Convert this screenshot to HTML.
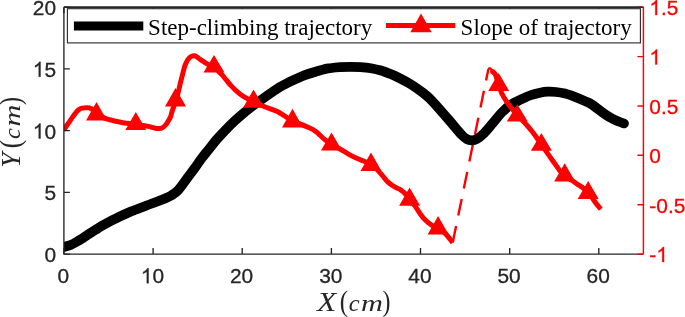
<!DOCTYPE html><html><head><meta charset="utf-8"><title>chart</title>
<style>html,body{margin:0;padding:0;background:#fff}body{width:685px;height:317px;overflow:hidden;font-family:"Liberation Sans",sans-serif}svg{display:block;will-change:transform}</style></head><body>
<svg width="685" height="317" viewBox="0 0 685 317">
<rect width="685" height="317" fill="#fff"/>
<defs><clipPath id="cp"><rect x="63.9" y="7.2" width="579.5" height="246.9"/></clipPath></defs>
<g clip-path="url(#cp)" fill="none">
<path d="M452.7 242.6 L488.2 70 Q489.2 66.2 492 70.2" stroke="#f00" stroke-width="2.4" stroke-dasharray="17 10.6"/>
<path d="M61.5 247.7 C61.9 247.6 62.2 247.6 63.7 247.1 C65.2 246.6 68.4 245.8 70.6 244.9 C72.8 244.0 74.9 242.8 77.0 241.6 C79.1 240.4 81.1 239.1 83.2 237.8 C85.3 236.5 87.4 235.0 89.5 233.6 C91.6 232.2 93.7 230.9 95.8 229.6 C97.9 228.3 99.9 227.0 102.0 225.8 C104.1 224.6 106.2 223.4 108.4 222.2 C110.6 221.0 112.9 219.8 115.0 218.8 C117.1 217.8 118.2 217.2 121.0 216.0 C123.8 214.8 127.4 213.0 131.5 211.3 C135.6 209.6 141.3 207.5 145.4 205.9 C149.5 204.3 152.7 203.2 156.0 202.0 C159.3 200.8 162.5 199.6 165.0 198.5 C167.5 197.4 168.8 196.9 171.0 195.6 C173.2 194.2 175.2 193.4 178.0 190.4 C180.8 187.4 185.0 181.1 187.8 177.3 C190.6 173.6 192.6 171.1 194.9 167.9 C197.2 164.8 199.2 161.6 201.6 158.4 C204.0 155.2 206.6 152.1 209.1 148.9 C211.6 145.8 214.0 142.6 216.7 139.5 C219.4 136.4 222.1 133.5 225.2 130.3 C228.3 127.1 232.3 123.2 235.4 120.3 C238.5 117.4 240.7 115.5 243.5 113.2 C246.3 110.9 249.2 108.7 252.0 106.5 C254.8 104.3 255.7 103.6 260.5 100.3 C265.3 97.0 274.2 90.4 281.0 86.4 C287.8 82.4 294.7 79.2 301.5 76.4 C308.3 73.6 317.2 71.2 322.0 69.8 C326.8 68.4 327.0 68.6 330.0 68.2 C333.0 67.8 336.6 67.4 340.0 67.2 C343.4 67.0 347.0 66.8 350.4 66.8 C353.8 66.8 357.2 66.9 360.6 67.1 C364.0 67.3 367.5 67.6 370.9 68.2 C374.3 68.8 377.6 69.5 381.0 70.5 C384.4 71.5 388.1 73.0 391.3 74.3 C394.5 75.6 396.9 76.8 400.0 78.4 C403.1 80.0 406.7 81.9 409.7 83.7 C412.7 85.5 414.9 87.0 417.8 89.0 C420.7 91.0 424.3 93.7 427.0 96.0 C429.7 98.3 430.2 98.8 434.0 103.0 C437.8 107.2 445.2 115.7 449.8 121.0 C454.4 126.3 458.9 132.0 461.8 135.0 C464.7 138.0 465.4 138.3 467.0 139.2 C468.6 140.1 470.1 140.3 471.7 140.3 C473.3 140.3 474.4 140.4 476.4 139.3 C478.3 138.2 480.7 136.6 483.4 133.9 C486.1 131.2 489.6 126.9 492.8 123.2 C496.0 119.5 499.2 115.2 502.3 112.0 C505.4 108.8 508.5 106.2 511.7 104.1 C514.9 102.0 518.1 100.9 521.2 99.4 C524.4 97.9 527.5 96.3 530.6 95.2 C533.7 94.1 537.1 93.3 540.0 92.7 C542.9 92.1 545.3 91.8 548.0 91.7 C550.7 91.6 553.2 91.7 556.0 92.0 C558.8 92.3 562.4 92.9 565.0 93.5 C567.6 94.1 568.2 94.2 571.5 95.5 C574.8 96.8 581.6 99.6 585.0 101.1 C588.4 102.6 588.7 102.4 592.0 104.6 C595.3 106.8 601.6 111.8 605.0 114.2 C608.4 116.6 610.2 117.5 612.5 118.7 C614.8 119.9 617.1 120.8 619.0 121.6 C620.9 122.4 623.2 123.2 624.0 123.5" stroke="#000" stroke-width="9.7" stroke-linecap="round" stroke-linejoin="round"/>
<path d="M63.6 130.1 C64.3 129.0 66.6 125.7 68.0 123.7 C69.4 121.7 70.8 119.6 72.0 117.9 C73.2 116.2 74.1 114.9 75.0 113.7 C75.9 112.5 76.5 111.7 77.3 110.9 C78.0 110.2 78.7 109.7 79.5 109.2 C80.3 108.7 81.0 108.3 82.1 108.1 C83.2 107.9 84.8 107.8 86.0 107.8 C87.2 107.8 88.6 107.7 89.6 107.9 C90.6 108.1 90.8 108.5 92.0 109.2 C93.2 109.9 95.0 111.2 96.5 112.3 C98.0 113.4 99.2 114.8 101.0 116.0 C102.8 117.2 103.6 118.1 107.3 119.2 C111.0 120.3 118.3 121.9 123.1 122.7 C127.8 123.5 131.6 123.6 135.8 124.2 C140.0 124.8 145.3 125.8 148.3 126.4 C151.3 127.0 152.2 127.5 154.0 127.9 C155.8 128.3 157.5 128.7 159.0 128.6 C160.5 128.5 161.8 128.0 163.0 127.3 C164.2 126.6 165.1 125.6 166.0 124.5 C166.9 123.4 167.8 121.8 168.6 120.5 C169.4 119.2 170.0 118.2 170.6 116.6 C171.2 115.0 171.6 112.8 172.2 111.0 C172.8 109.2 173.4 107.7 174.2 105.5 C175.0 103.3 176.0 100.8 176.8 98.0 C177.6 95.2 178.2 92.2 179.0 89.0 C179.8 85.8 180.3 83.0 181.4 79.0 C182.5 75.0 183.9 68.3 185.3 64.7 C186.7 61.1 188.1 59.1 189.6 57.6 C191.1 56.1 192.8 55.5 194.6 55.8 C196.4 56.1 198.4 58.2 200.5 59.6 C202.6 61.0 204.8 62.6 207.0 63.9 C209.2 65.2 212.1 66.3 214.0 67.5 C215.9 68.7 217.1 70.0 218.5 71.3 C219.9 72.6 221.3 73.9 222.6 75.4 C223.9 76.9 225.1 78.5 226.5 80.2 C227.9 81.9 229.2 83.7 230.8 85.4 C232.4 87.1 234.3 89.0 236.0 90.6 C237.7 92.1 239.2 93.4 241.0 94.7 C242.8 96.0 244.5 97.2 246.7 98.3 C248.9 99.4 251.0 100.1 254.0 101.5 C257.0 102.9 260.8 105.1 264.7 106.8 C268.6 108.5 272.6 109.1 277.3 111.5 C282.0 113.9 288.8 119.1 293.0 121.3 C297.2 123.5 300.0 123.9 302.5 124.9 C305.0 125.9 305.9 126.3 308.0 127.3 C310.1 128.3 312.3 129.0 315.1 131.0 C317.9 133.0 321.9 137.1 324.6 139.4 C327.3 141.7 328.9 143.0 331.5 144.6 C334.1 146.2 337.6 147.7 340.4 149.2 C343.1 150.7 345.4 152.3 348.0 153.8 C350.6 155.3 353.4 156.8 356.1 158.0 C358.8 159.2 361.5 160.2 364.0 161.2 C366.5 162.2 368.8 162.8 371.0 164.2 C373.2 165.6 375.1 167.6 377.0 169.5 C378.9 171.4 380.7 173.7 382.4 175.6 C384.1 177.5 385.6 179.6 387.1 181.2 C388.7 182.8 390.2 183.9 391.7 185.0 C393.2 186.1 394.5 186.8 396.0 187.6 C397.5 188.4 399.1 188.8 400.6 189.8 C402.1 190.8 403.5 191.9 405.0 193.5 C406.5 195.1 408.0 197.5 409.6 199.5 C411.2 201.5 412.4 202.4 414.7 205.5 C417.0 208.6 420.2 214.5 423.4 218.1 C426.6 221.7 430.3 224.4 433.8 226.8 C437.3 229.2 441.1 229.9 444.2 232.5 C447.3 235.1 451.3 240.9 452.7 242.6" stroke="#f00" stroke-width="5.0" stroke-linejoin="round"/>
<path d="M492.6 71.4 C493.1 72.0 494.5 72.5 495.5 74.8 C496.5 77.1 497.7 82.0 498.7 85.0 C499.7 88.0 500.2 89.9 501.5 92.7 C502.8 95.5 504.8 98.9 506.6 101.6 C508.4 104.3 510.3 106.6 512.1 108.8 C513.9 111.0 515.1 112.5 517.3 115.0 C519.5 117.5 523.0 121.0 525.3 123.5 C527.5 126.0 528.9 127.5 530.8 129.8 C532.6 132.1 534.6 134.7 536.4 137.2 C538.2 139.7 539.9 142.4 541.4 144.6 C542.9 146.8 543.7 147.9 545.6 150.6 C547.5 153.3 550.3 157.3 552.7 160.7 C555.1 164.0 557.8 168.1 559.8 170.7 C561.8 173.2 563.2 174.7 564.7 176.0 C566.2 177.3 567.1 177.7 568.5 178.5 C569.9 179.3 571.2 180.0 572.8 181.0 C574.4 182.0 576.2 183.4 578.0 184.6 C579.8 185.8 581.8 187.0 583.5 188.3 C585.2 189.6 586.6 190.7 588.2 192.5 C589.8 194.3 591.7 197.2 593.2 199.3 C594.7 201.4 595.9 203.2 597.2 204.8 C598.5 206.5 600.3 208.5 600.9 209.2" stroke="#f00" stroke-width="5.0" stroke-linejoin="round" stroke-linecap="butt"/>
<circle cx="492.6" cy="71.4" r="2.5" fill="#f00"/>
<path d="M96.5 102.1 L86.0 120.6 L107.0 120.6Z M135.8 111.9 L125.3 130.0 L146.3 130.0Z M175.5 88.0 L165.0 106.4 L186.0 106.4Z M214.0 55.0 L203.5 72.4 L224.5 72.4Z M253.5 89.4 L243.0 107.8 L264.0 107.8Z M292.5 108.7 L282.0 127.4 L303.0 127.4Z M331.5 132.4 L321.0 150.6 L342.0 150.6Z M371.0 152.5 L360.5 170.9 L381.5 170.9Z M409.6 187.5 L399.1 205.7 L420.1 205.7Z M438.1 216.0 L427.6 234.5 L448.6 234.5Z M498.7 73.1 L488.2 91.1 L509.2 91.1Z M517.3 104.3 L506.8 121.6 L527.8 121.6Z M541.4 133.0 L530.9 150.8 L551.9 150.8Z M564.7 163.3 L554.2 181.4 L575.2 181.4Z M588.2 180.9 L577.7 199.0 L598.7 199.0Z" fill="#f00"/>
</g>
<g stroke="#262626" stroke-width="1.35" fill="none">
<path d="M63.9 7.2 V254.1 H643.4"/>
<path d="M63.9 7.2 H643.4"/>
<path d="M63.9 254.1 v-6.0 M63.9 7.2 v6.0 M153.1 254.1 v-6.0 M153.1 7.2 v6.0 M242.2 254.1 v-6.0 M242.2 7.2 v6.0 M331.4 254.1 v-6.0 M331.4 7.2 v6.0 M420.5 254.1 v-6.0 M420.5 7.2 v6.0 M509.7 254.1 v-6.0 M509.7 7.2 v6.0 M598.8 254.1 v-6.0 M598.8 7.2 v6.0 M63.9 254.1 h6.0 M63.9 192.4 h6.0 M63.9 130.6 h6.0 M63.9 68.9 h6.0 M63.9 7.2 h6.0 "/>
</g>
<path d="M643.4 7.2 V254.1 M643.4 254.1 h-6.0 M643.4 204.7 h-6.0 M643.4 155.3 h-6.0 M643.4 106.0 h-6.0 M643.4 56.6 h-6.0 M643.4 7.2 h-6.0 " stroke="#f00" stroke-width="1.45" fill="none"/>
<g font-family="Liberation Sans, sans-serif" font-size="20.9" fill="#262626" stroke="#262626" stroke-width="0.3">
<text x="57.49" y="283.20">0</text>
<path transform="translate(140.83,283.20) scale(20.900)" d="M0.3726 0H0.2847V-0.5601Q0.2529 -0.5298 0.2014 -0.4995T0.1089 -0.4541V-0.5391Q0.1826 -0.5737 0.2378 -0.6230T0.3159 -0.7188H0.3726Z" fill="#262626" stroke="#262626" stroke-width="0.0144"/><text x="152.45" y="283.20">0</text>
<text x="229.99" y="283.20">2</text><text x="241.61" y="283.20">0</text>
<text x="319.14" y="283.20">3</text><text x="330.76" y="283.20">0</text>
<text x="408.29" y="283.20">4</text><text x="419.92" y="283.20">0</text>
<text x="497.45" y="283.20">5</text><text x="509.07" y="283.20">0</text>
<text x="586.60" y="283.20">6</text><text x="598.22" y="283.20">0</text>
<text x="44.38" y="262.00">0</text>
<text x="44.38" y="200.28">5</text>
<path transform="translate(32.76,138.55) scale(20.900)" d="M0.3726 0H0.2847V-0.5601Q0.2529 -0.5298 0.2014 -0.4995T0.1089 -0.4541V-0.5391Q0.1826 -0.5737 0.2378 -0.6230T0.3159 -0.7188H0.3726Z" fill="#262626" stroke="#262626" stroke-width="0.0144"/><text x="44.38" y="138.55">0</text>
<path transform="translate(32.76,76.82) scale(20.900)" d="M0.3726 0H0.2847V-0.5601Q0.2529 -0.5298 0.2014 -0.4995T0.1089 -0.4541V-0.5391Q0.1826 -0.5737 0.2378 -0.6230T0.3159 -0.7188H0.3726Z" fill="#262626" stroke="#262626" stroke-width="0.0144"/><text x="44.38" y="76.82">5</text>
<text x="32.76" y="15.10">2</text><text x="44.38" y="15.10">0</text>
</g>
<g font-family="Liberation Sans, sans-serif" font-size="20.9" fill="#f00" stroke="#f00" stroke-width="0.3">
<text x="649.30" y="262.00">-</text><path transform="translate(656.26,262.00) scale(20.900)" d="M0.3726 0H0.2847V-0.5601Q0.2529 -0.5298 0.2014 -0.4995T0.1089 -0.4541V-0.5391Q0.1826 -0.5737 0.2378 -0.6230T0.3159 -0.7188H0.3726Z" fill="#f00" stroke="#f00" stroke-width="0.0144"/>
<text x="649.30" y="212.62">-</text><text x="656.26" y="212.62">0</text><text x="667.88" y="212.62">.</text><text x="673.69" y="212.62">5</text>
<text x="649.30" y="163.24">0</text>
<text x="649.30" y="113.86">0</text><text x="660.92" y="113.86">.</text><text x="666.73" y="113.86">5</text>
<path transform="translate(649.30,64.48) scale(20.900)" d="M0.3726 0H0.2847V-0.5601Q0.2529 -0.5298 0.2014 -0.4995T0.1089 -0.4541V-0.5391Q0.1826 -0.5737 0.2378 -0.6230T0.3159 -0.7188H0.3726Z" fill="#f00" stroke="#f00" stroke-width="0.0144"/>
<path transform="translate(649.30,15.10) scale(20.900)" d="M0.3726 0H0.2847V-0.5601Q0.2529 -0.5298 0.2014 -0.4995T0.1089 -0.4541V-0.5391Q0.1826 -0.5737 0.2378 -0.6230T0.3159 -0.7188H0.3726Z" fill="#f00" stroke="#f00" stroke-width="0.0144"/><text x="660.92" y="15.10">.</text><text x="666.73" y="15.10">5</text>
</g>
<rect x="67.4" y="8.7" width="573.0" height="34.2" fill="#fff" stroke="#262626" stroke-width="1.1"/>
<path d="M63.9 7.2 H643.4" stroke="#262626" stroke-width="1.3"/>
<path d="M73.9 26 H143.3" stroke="#000" stroke-width="9"/>
<path d="M386 25.6 H455.3" stroke="#f00" stroke-width="5.0"/>
<path d="M421.0 13.5 L410.3 32.2 L431.7 32.2Z" fill="#f00"/>
<g font-family="Liberation Serif, serif" font-size="23" fill="#000">
<text x="148.1" y="35.3">Step-climbing trajectory</text>
<text x="460.6" y="35.3">Slope of trajectory</text>
</g>
<g font-family="Liberation Serif, serif" fill="#262626">
<text transform="translate(317.11,310.70) scale(1.198,1)" font-size="26.4" font-style="italic">X</text>
<text transform="translate(339.67,310.70) scale(0.851,1)" font-size="29.5">(</text>
<text transform="translate(348.77,310.70) scale(1.019,1)" font-size="24" font-style="italic">c</text>
<text transform="translate(361.04,310.70) scale(1.266,1)" font-size="24" font-style="italic">m</text>
<text transform="translate(382.48,310.70) scale(0.808,1)" font-size="29.5">)</text>
</g>
<g font-family="Liberation Serif, serif" fill="#262626" transform="translate(20,166.1) rotate(-90)">
<text transform="translate(-1.64,0.00) scale(1.036,1)" font-size="26.4" font-style="italic">Y</text>
<text transform="translate(17.87,0.00) scale(0.851,1)" font-size="29.5">(</text>
<text transform="translate(27.17,0.00) scale(1.019,1)" font-size="24" font-style="italic">c</text>
<text transform="translate(39.54,0.00) scale(1.266,1)" font-size="24" font-style="italic">m</text>
<text transform="translate(61.18,0.00) scale(0.808,1)" font-size="29.5">)</text>
</g>
</svg></body></html>
